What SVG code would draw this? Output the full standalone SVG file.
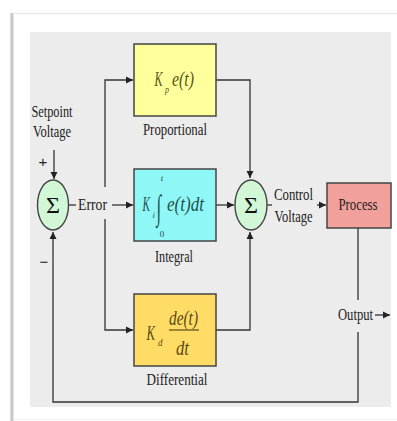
<svg xmlns="http://www.w3.org/2000/svg" width="397" height="421" viewBox="0 0 397 421">
<defs>
<style>
.lbl{font-family:"Liberation Serif","Times New Roman",serif;font-size:16px;fill:#222}
.f{font-family:"Liberation Serif","Times New Roman",serif;font-style:italic}
.box{stroke:#444;stroke-width:1.5}
.ln{fill:none;stroke:#333;stroke-width:1.3}
.sum{fill:#d2f7d6;stroke:#444;stroke-width:1.4}
.sig{font-family:"Liberation Serif","Times New Roman",serif;font-size:24px;fill:#111}
</style>
<marker id="ah" markerWidth="8" markerHeight="8" refX="7" refY="4" orient="auto" markerUnits="userSpaceOnUse">
<path d="M0,0.5 L7,4 L0,7.5 Z" fill="#222"/>
</marker>
<linearGradient id="sh" x1="0" x2="1" y1="0" y2="0">
<stop offset="0" stop-color="#e6e6e6"/>
<stop offset="0.5" stop-color="#bdbdbd"/>
<stop offset="1" stop-color="#f2f2f2"/>
</linearGradient>
</defs>
<rect width="397" height="421" fill="#ffffff"/>
<line x1="13" y1="13.5" x2="397" y2="13.5" stroke="#ececec" stroke-width="1.5"/>
<rect x="10" y="13" width="4" height="408" fill="url(#sh)"/>
<line x1="14" y1="419.5" x2="397" y2="419.5" stroke="#eeeeee" stroke-width="1"/>
<rect x="30" y="32" width="361" height="375" fill="#ececec"/>

<g id="connectors">
<path class="ln" d="M54,150 V179" marker-end="url(#ah)"/>
<path class="ln" d="M69,205 H76"/>
<path class="ln" d="M112,205 H133" marker-end="url(#ah)"/>
<path class="ln" d="M105,187 V80 H133" marker-end="url(#ah)"/>
<path class="ln" d="M105,219 V330 H133" marker-end="url(#ah)"/>
<path class="ln" d="M216,80 H250 V178" marker-end="url(#ah)"/>
<path class="ln" d="M216,205 H234" marker-end="url(#ah)"/>
<path class="ln" d="M216,330 H250 V232" marker-end="url(#ah)"/>
<path class="ln" d="M267,205 H272"/>
<path class="ln" d="M317,205 H326" marker-end="url(#ah)"/>
<path class="ln" d="M358,228 V300"/>
<path class="ln" d="M358,332 V402 H53 V232" marker-end="url(#ah)"/>
<path class="ln" d="M375,315 H390" marker-end="url(#ah)"/>
</g>

<g id="setpoint">
<text class="lbl" x="52" y="117" text-anchor="middle" textLength="41" lengthAdjust="spacingAndGlyphs">Setpoint</text>
<text class="lbl" x="52" y="137" text-anchor="middle" textLength="38" lengthAdjust="spacingAndGlyphs">Voltage</text>
<text x="43" y="167" text-anchor="middle" font-family="Liberation Sans, Arial, sans-serif" font-size="15" fill="#222">+</text>
<text x="44" y="267" text-anchor="middle" font-family="Liberation Sans, Arial, sans-serif" font-size="15" fill="#222">−</text>
</g>

<g id="sum1">
<ellipse class="sum" cx="53" cy="205" rx="15.5" ry="25"/>
<text class="sig" x="53" y="213" text-anchor="middle">Σ</text>
</g>

<g id="error">
<text class="lbl" x="92.5" y="210" text-anchor="middle" textLength="29" lengthAdjust="spacingAndGlyphs">Error</text>
</g>

<g id="proportional">
<rect class="box" x="134" y="44" width="82" height="72" fill="#ffff9c"/>
<text class="f" x="154.5" y="86" font-size="20" fill="#5a5418" textLength="8" lengthAdjust="spacingAndGlyphs">K</text>
<text class="f" x="165" y="93" font-size="10" fill="#5a5418" textLength="4" lengthAdjust="spacingAndGlyphs">p</text>
<text class="f" x="172" y="86" font-size="20" fill="#5a5418" textLength="22" lengthAdjust="spacingAndGlyphs">e(t)</text>
<text class="lbl" x="175" y="135" text-anchor="middle" textLength="64" lengthAdjust="spacingAndGlyphs">Proportional</text>
</g>

<g id="integral">
<rect class="box" x="134" y="169" width="82" height="72" fill="#8ff8f6"/>
<text class="f" x="142.5" y="211" font-size="20" fill="#1f5050" textLength="7.5" lengthAdjust="spacingAndGlyphs">K</text>
<text class="f" x="152.5" y="218" font-size="9" fill="#1f5050" textLength="2.5" lengthAdjust="spacingAndGlyphs">i</text>
<text x="0" y="0" transform="translate(156.5,219) scale(0.7,1.45)" font-family="Liberation Serif, serif" font-size="24" fill="#1f5050">∫</text>
<text class="f" x="162" y="181" font-size="9" fill="#1f5050" text-anchor="middle">t</text>
<text x="162" y="237" font-family="Liberation Serif, serif" font-size="9" fill="#1f5050" text-anchor="middle">0</text>
<text class="f" x="167" y="211" font-size="20" fill="#1f5050" textLength="37" lengthAdjust="spacingAndGlyphs">e(t)dt</text>
<text class="lbl" x="174" y="262" text-anchor="middle" textLength="38" lengthAdjust="spacingAndGlyphs">Integral</text>
</g>

<g id="differential">
<rect class="box" x="134" y="294" width="82" height="72" fill="#ffdc66"/>
<text class="f" x="146.5" y="340" font-size="21" fill="#5a4a12" textLength="8.5" lengthAdjust="spacingAndGlyphs">K</text>
<text class="f" x="158" y="346" font-size="10" fill="#5a4a12" textLength="4.5" lengthAdjust="spacingAndGlyphs">d</text>
<text class="f" x="169" y="325" font-size="20" fill="#5a4a12" textLength="29" lengthAdjust="spacingAndGlyphs">de(t)</text>
<line x1="169" y1="330" x2="199" y2="330" stroke="#5a4a12" stroke-width="1.2"/>
<text class="f" x="176" y="355" font-size="20" fill="#5a4a12" textLength="13" lengthAdjust="spacingAndGlyphs">dt</text>
<text class="lbl" x="177" y="385" text-anchor="middle" textLength="61" lengthAdjust="spacingAndGlyphs">Differential</text>
</g>

<g id="sum2">
<ellipse class="sum" cx="251" cy="205" rx="16" ry="25"/>
<text class="sig" x="251" y="213" text-anchor="middle">Σ</text>
</g>

<g id="control-voltage">
<text class="lbl" x="293.5" y="200" text-anchor="middle" textLength="39" lengthAdjust="spacingAndGlyphs">Control</text>
<text class="lbl" x="293.5" y="222" text-anchor="middle" textLength="38" lengthAdjust="spacingAndGlyphs">Voltage</text>
</g>

<g id="process">
<rect class="box" x="327" y="183" width="64" height="45" fill="#f2a09c"/>
<text class="lbl" x="358" y="210" text-anchor="middle" textLength="39" lengthAdjust="spacingAndGlyphs">Process</text>
</g>

<g id="output">
<text class="lbl" x="355.5" y="320" text-anchor="middle" textLength="35" lengthAdjust="spacingAndGlyphs">Output</text>
</g>
</svg>
